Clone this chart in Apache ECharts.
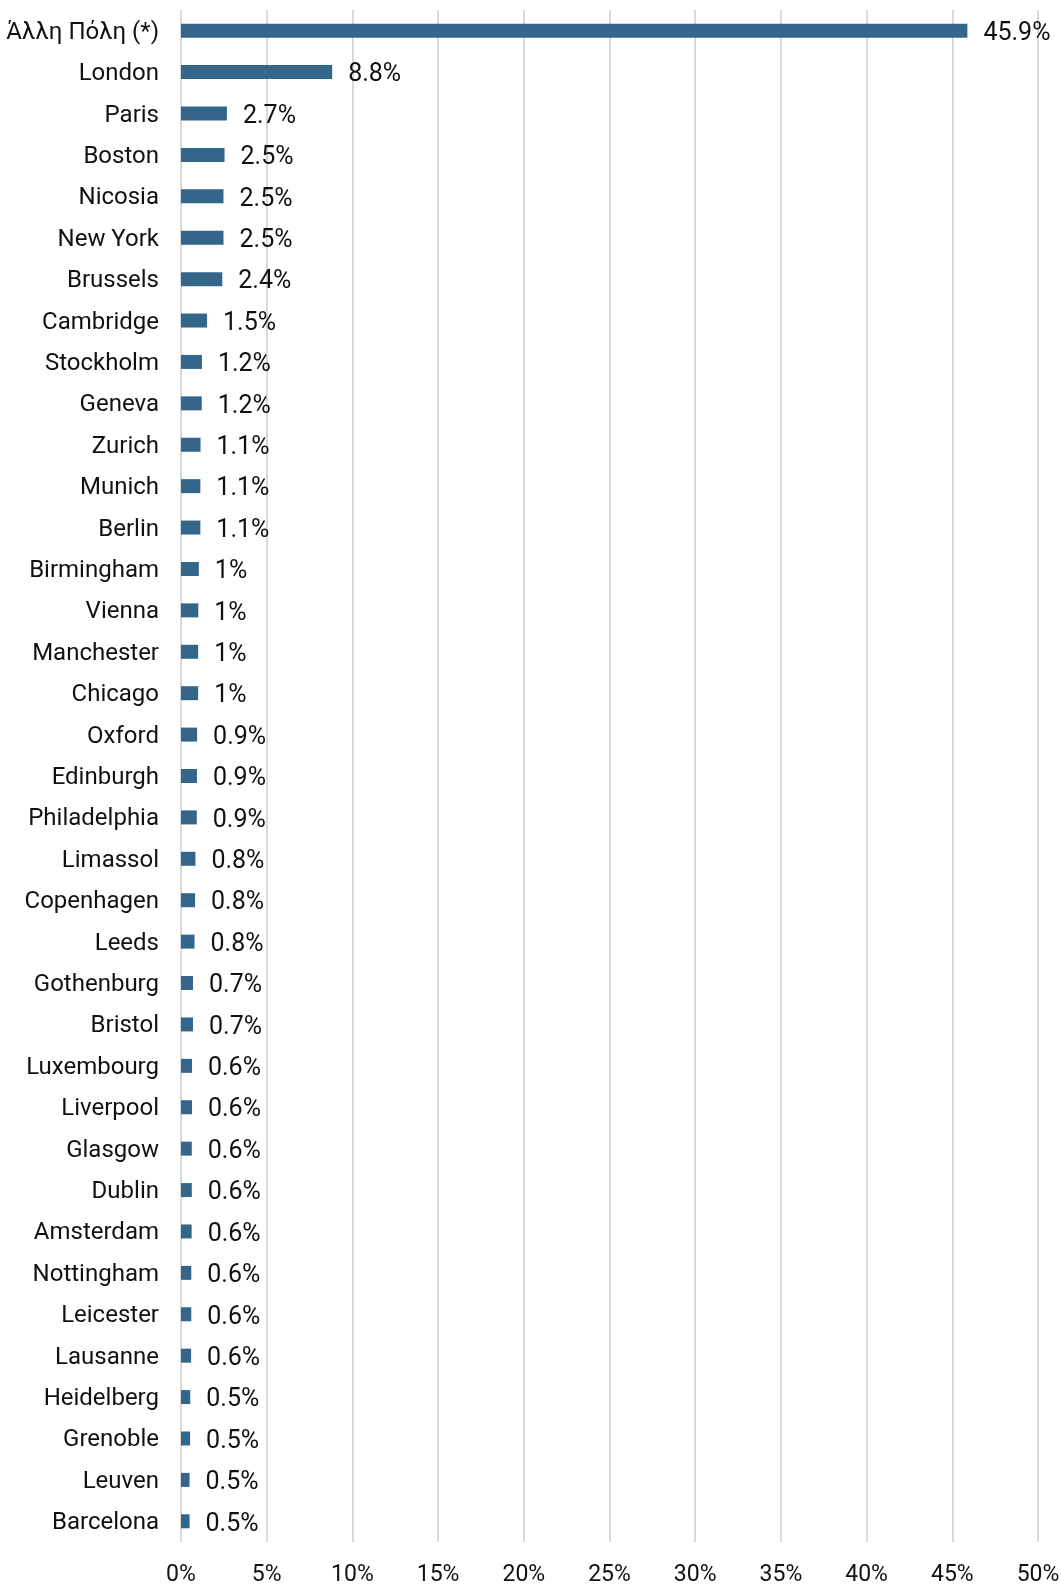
<!DOCTYPE html>
<html>
<head>
<meta charset="utf-8">
<script src="https://cdn.jsdelivr.net/npm/echarts@6/dist/echarts.min.js"></script>
<style>
html,body{margin:0;padding:0;background:#fff;}
#c{width:1061px;height:1584px;}
</style>
</head>
<body>
<div id="c"></div>
<script>
const categories = ["Άλλη Πόλη (*)","London","Paris","Boston","Nicosia","New York","Brussels","Cambridge","Stockholm","Geneva","Zurich","Munich","Berlin","Birmingham","Vienna","Manchester","Chicago","Oxford","Edinburgh","Philadelphia","Limassol","Copenhagen","Leeds","Gothenburg","Bristol","Luxembourg","Liverpool","Glasgow","Dublin","Amsterdam","Nottingham","Leicester","Lausanne","Heidelberg","Grenoble","Leuven","Barcelona"];
const values = [45.88,8.82,2.68,2.54,2.48,2.48,2.41,1.52,1.22,1.21,1.14,1.13,1.13,1.04,1.01,1.0,1.0,0.94,0.93,0.92,0.84,0.82,0.79,0.7,0.7,0.64,0.64,0.63,0.63,0.62,0.6,0.6,0.59,0.54,0.53,0.5,0.5];
const xTicks = [0,5,10,15,20,25,30,35,40,45,50];

const FONT = 'Roboto';
const chart = echarts.init(document.getElementById('c'));
chart.setOption({
  animation:false,
  backgroundColor:'#ffffff',
  grid:{left:181,right:23,top:10,bottom:42,containLabel:false,outerBoundsMode:'none'},
  xAxis:{
    type:'value',min:xTicks[0],max:xTicks[xTicks.length-1],interval:5,
    axisLine:{show:false},axisTick:{show:false},
    splitLine:{show:true,lineStyle:{color:'#d9d9d9',width:2}},
    axisLabel:{margin:22,fontFamily:FONT,fontSize:23,color:'#111',formatter:v=>v+'%'}
  },
  yAxis:{
    type:'category',data:categories,inverse:true,
    axisLine:{show:false},axisTick:{show:false},
    axisLabel:{margin:22,fontFamily:FONT,fontSize:24,color:'#111',verticalAlign:'top',lineHeight:4}
  },
  series:[{
    type:'bar',data:values,barWidth:14,
    itemStyle:{color:'#34658a'},
    label:{show:true,position:'right',distance:16,fontFamily:FONT,fontSize:25,color:'#111',offset:[0,3],
      formatter:p=>parseFloat(p.value.toFixed(1))+'%'}
  }]
});
</script>
</body>
</html>
